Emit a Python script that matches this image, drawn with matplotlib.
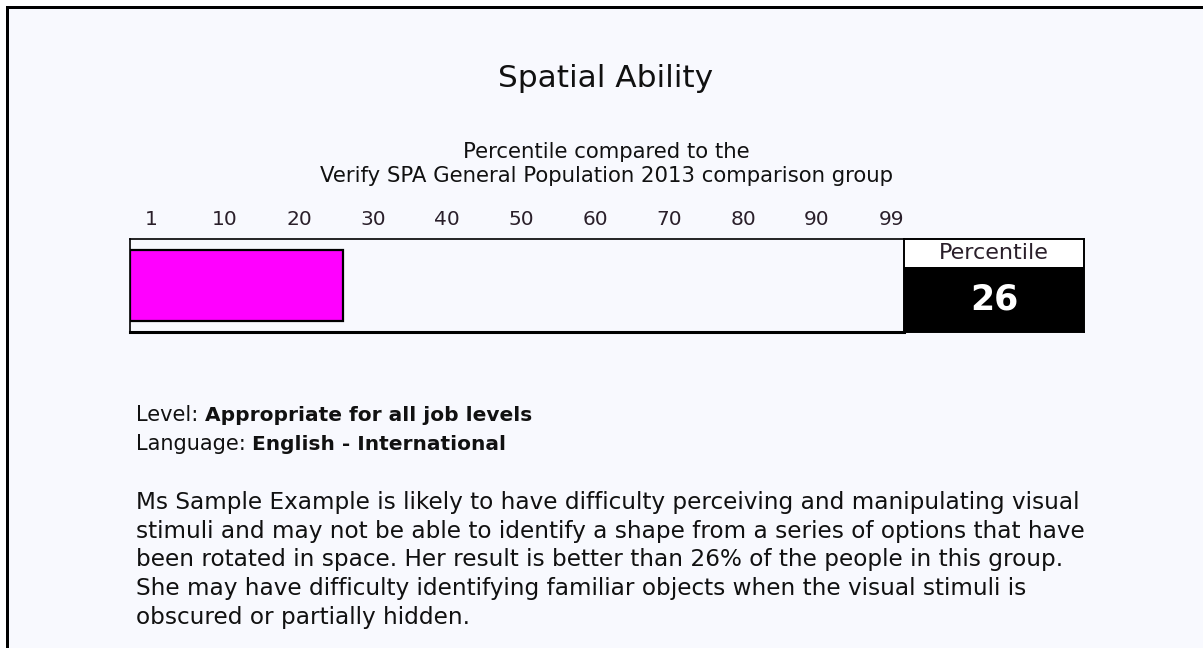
import numpy as np
import matplotlib

matplotlib.use("Agg")
import matplotlib.pyplot as plt  # noqa: E402
from matplotlib.patches import Rectangle  # noqa: E402

W, H = 1203, 648
BG = "#f8f9fe"
MAGENTA = "#ff00ff"

title = "Spatial Ability"
subtitle = ["Percentile compared to the",
            "Verify SPA General Population 2013 comparison group"]
tick_values = [1, 10, 20, 30, 40, 50, 60, 70, 80, 90, 99]
score = 26
level_label, level_value = "Level: ", "Appropriate for all job levels"
lang_label, lang_value = "Language: ", "English - International"
paragraph = [
    "Ms Sample Example is likely to have difficulty perceiving and manipulating visual",
    "stimuli and may not be able to identify a shape from a series of options that have",
    "been rotated in space. Her result is better than 26% of the people in this group.",
    "She may have difficulty identifying familiar objects when the visual stimuli is",
    "obscured or partially hidden.",
]


def fx(px):
    return px / W


def fy(py):
    return 1 - py / H


plt.rcParams.update({"font.family": "DejaVu Sans", "text.color": "#111111"})
fig = plt.figure(figsize=(W / 100, H / 100), dpi=100)
fig.patch.set_facecolor("white")

# panel background + the thick top/left border
fig.patches.append(Rectangle((fx(6), 0), 1 - fx(6), fy(6), transform=fig.transFigure,
                             facecolor=BG, edgecolor="none", zorder=-10))
fig.patches.append(Rectangle((fx(6), fy(9)), 1 - fx(6), 3 / H, transform=fig.transFigure,
                             facecolor="black", edgecolor="none", zorder=-5))
fig.patches.append(Rectangle((fx(6), 0), 3 / W, fy(6), transform=fig.transFigure,
                             facecolor="black", edgecolor="none", zorder=-5))

fig.text(fx(606), fy(87), title, ha="center", va="baseline", fontsize=22.5)
for i, line in enumerate(subtitle):
    fig.text(fx(606), fy(158 + 24 * i), line, ha="center", va="baseline", fontsize=15.3)

# -- percentile bar --
x0, x1, y0, y1 = 130, 904, 239, 332
idx0, step = 151, 74.0
ax = fig.add_axes([fx(x0), fy(y1), fx(x1 - x0), (y1 - y0) / H])
ax.set_facecolor(BG)
ax.set_xlim((x0 - idx0) / step, (x1 - idx0) / step)
ax.set_ylim(0, 1)
pos = np.arange(len(tick_values))
bar_end = np.interp(score, tick_values, pos)
left = ax.get_xlim()[0]
ax.barh(0.5, bar_end - left, left=left, height=0.76, color=MAGENTA,
        edgecolor="black", linewidth=1.6)
ax.xaxis.tick_top()
ax.set_xticks(pos)
ax.set_xticklabels([str(v) for v in tick_values], fontsize=14.5, color="#2a1f2a")
ax.tick_params(axis="x", length=0, pad=7)
ax.set_yticks([])
for s in ax.spines.values():
    s.set_linewidth(1.2)
ax.spines["bottom"].set_linewidth(2.2)
ax.spines["right"].set_visible(False)

# -- percentile box --
px0, px1 = 904, 1084
axp = fig.add_axes([fx(px0), fy(y1), fx(px1 - px0), (y1 - y0) / H])
axp.set_xlim(0, 1)
axp.set_ylim(0, 1)
axp.set_facecolor("white")
split = (y1 - 267) / (y1 - y0)
axp.add_patch(Rectangle((0, 0), 1, split, facecolor="black", edgecolor="none"))
axp.text(0.5, (1 + split) / 2, "Percentile", ha="center", va="center", fontsize=16,
         color="#2a1f2a")
axp.text(0.5, split / 2, str(score), ha="center", va="center", fontsize=25,
         fontweight="bold", color="white")
axp.set_xticks([]); axp.set_yticks([])
for s in axp.spines.values():
    s.set_linewidth(1.4)

# -- level / language lines (label normal, value bold) --
fig.canvas.draw()
renderer = fig.canvas.get_renderer()
for yb, lab, val in ((421, level_label, level_value), (450, lang_label, lang_value)):
    t = fig.text(fx(136), fy(yb), lab, ha="left", va="baseline", fontsize=15)
    bb = t.get_window_extent(renderer)
    fig.text(bb.x1 / W, fy(yb), val, ha="left", va="baseline", fontsize=14.5,
             fontweight="bold")

for i, line in enumerate(paragraph):
    fig.text(fx(136), fy(509 + 28.7 * i), line, ha="left", va="baseline", fontsize=16.7)

fig.savefig("out.png", dpi=100, facecolor=fig.get_facecolor())
